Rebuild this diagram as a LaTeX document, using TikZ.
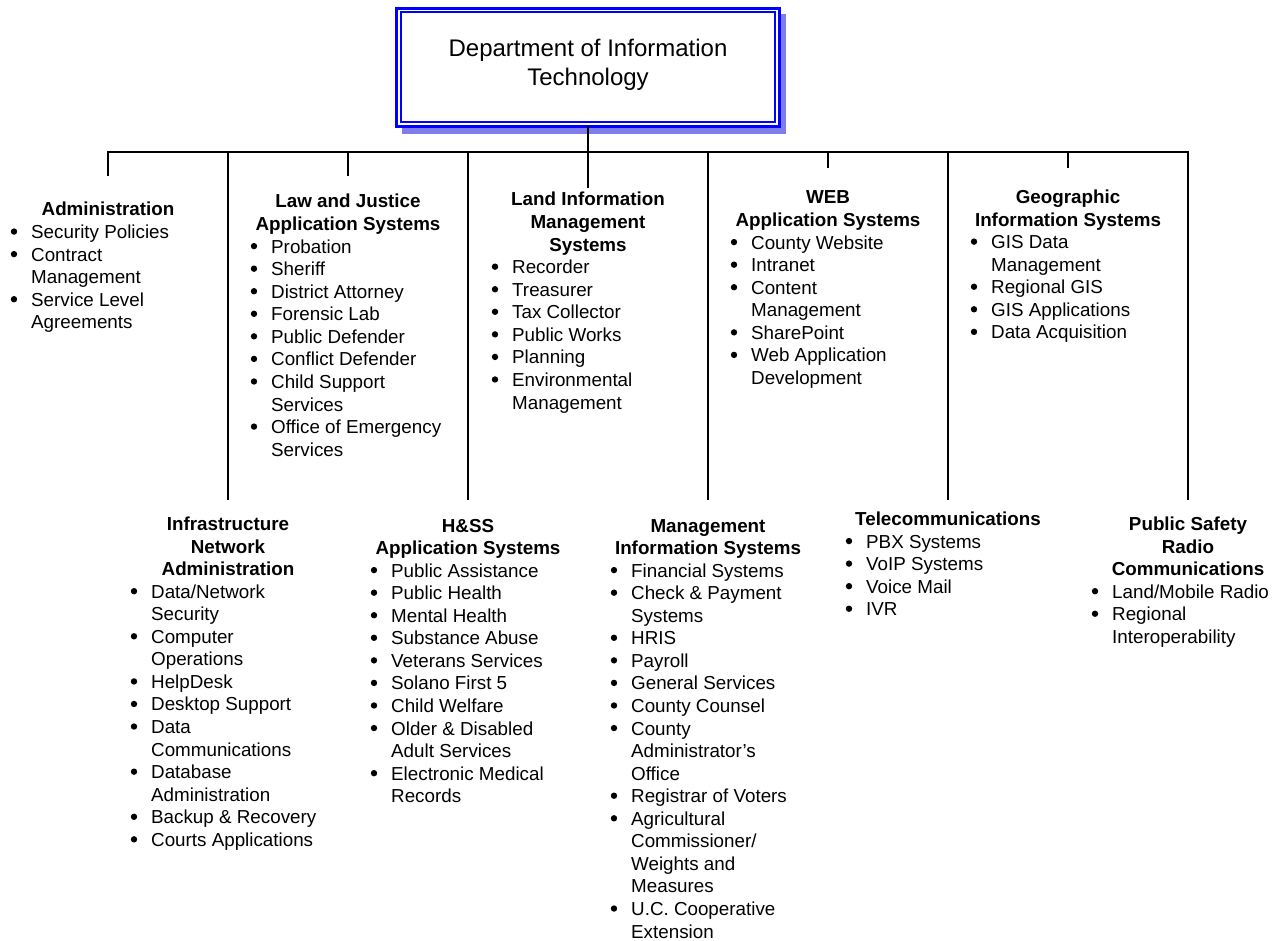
\documentclass[tikz,border=0pt]{standalone}
\usepackage{fontspec}
\setmainfont{Liberation Sans}
\usetikzlibrary{calc}
\definecolor{shadowblue}{RGB}{125,125,240}
\definecolor{titleblue}{RGB}{0,0,255}
\tikzset{
  conn/.style={line width=2pt, black},
  hd/.style={inner sep=0pt, font=\fontsize{18.8}{22.56}\selectfont\bfseries},
  it/.style={inner sep=0pt, font=\fontsize{18.8}{22.56}\selectfont},
  bul/.style={fill=black},
  titlebox/.style={draw=titleblue, line width=3.5pt, fill=white, outer sep=0pt,
    minimum width=383pt, minimum height=118pt, align=center,
    font=\fontsize{24}{29}\selectfont},
}
\newcommand\orggroup[8]{%
  \node[hd, anchor=base] (h#1) at (#2,#3) {\begin{tabular}[t]{@{}c@{}}#5\end{tabular}};
  \node[it, anchor=base west] (l#1) at (#6,#3+#4*22.56) {\begin{tabular}[t]{@{}l@{}}#7\end{tabular}};
  \foreach \bi in {#8} \fill[bul] (#6-17,#3+#4*22.56+\bi*22.56-7) circle (3.2);
}
\begin{document}
\begin{tikzpicture}[x=1pt,y=-1pt]
\fill[white] (0,0) rectangle (1275,941);
\useasboundingbox (0,0) rectangle (1275,941);
% title box with shadow
\fill[shadowblue] (402,14) rectangle (786,134);
\node[titlebox] (top) at (588,67.5) {Department of Information\\Technology\rule[-11pt]{0pt}{0pt}};
\draw[titleblue, line width=2pt] ($(top.north west)+(4.5,4)$) rectangle ($(top.south east)+(-4.5,-4.5)$);
% bus coordinates
\coordinate (bAdm) at (108,152);
\coordinate (bInf) at (228,152);
\coordinate (bLaw) at (348,152);
\coordinate (bHss) at (468,152);
\coordinate (bMis) at (708,152);
\coordinate (bWeb) at (828,152);
\coordinate (bTel) at (948,152);
\coordinate (bGis) at (1068,152);
\coordinate (bPs) at (1188,152);
\coordinate (eAdm) at (108,176);
\coordinate (eInf) at (228,500);
\coordinate (eLaw) at (348,176);
\coordinate (eHss) at (468,500);
\coordinate (eLand) at (588,188);
\coordinate (eMis) at (708,500);
\coordinate (eWeb) at (828,168);
\coordinate (eTel) at (948,500);
\coordinate (eGis) at (1068,168);
\coordinate (ePs) at (1188,500);
\draw[conn] (top.south) -- (eLand);
\draw[conn] (eAdm) -- (bAdm) -- (bPs) -- (ePs);
\draw[conn] (bInf) -- (eInf);
\draw[conn] (bLaw) -- (eLaw);
\draw[conn] (bHss) -- (eHss);
\draw[conn] (bMis) -- (eMis);
\draw[conn] (bWeb) -- (eWeb);
\draw[conn] (bTel) -- (eTel);
\draw[conn] (bGis) -- (eGis);
% groups
\orggroup{Adm}{108}{216}{1}{Administration}{31}{Security Policies\\Contract\\Management\\Service Level\\Agreements}{0,1,3}
\orggroup{Law}{348}{208}{2}{Law and Justice\\Application Systems}{271}{Probation\\Sheriff\\District Attorney\\Forensic Lab\\Public Defender\\Conflict Defender\\Child Support\\Services\\Office of Emergency\\Services}{0,1,2,3,4,5,6,8}
\orggroup{Land}{588}{206}{3}{Land Information\\Management\\Systems}{512}{Recorder\\Treasurer\\Tax Collector\\Public Works\\Planning\\Environmental\\Management}{0,1,2,3,4,5}
\orggroup{Web}{828}{204}{2}{WEB\\Application Systems}{751}{County Website\\Intranet\\Content\\Management\\SharePoint\\Web Application\\Development}{0,1,2,4,5}
\orggroup{Gis}{1068}{203.5}{2}{Geographic\\Information Systems}{991}{GIS Data\\Management\\Regional GIS\\GIS Applications\\Data Acquisition}{0,2,3,4}
\orggroup{Inf}{228}{530.5}{3}{Infrastructure\\Network\\Administration}{151}{Data/Network\\Security\\Computer\\Operations\\HelpDesk\\Desktop Support\\Data\\Communications\\Database\\Administration\\Backup \& Recovery\\Courts Applications}{0,2,4,5,6,8,10,11}
\orggroup{Hss}{468}{532}{2}{H\&SS\\Application Systems}{391}{Public Assistance\\Public Health\\Mental Health\\Substance Abuse\\Veterans Services\\Solano First 5\\Child Welfare\\Older \& Disabled\\Adult Services\\Electronic Medical\\Records}{0,1,2,3,4,5,6,7,9}
\orggroup{Mis}{708}{532}{2}{Management\\Information Systems}{631}{Financial Systems\\Check \& Payment\\Systems\\HRIS\\Payroll\\General Services\\County Counsel\\County\\Administrator’s\\Office\\Registrar of Voters\\Agricultural\\Commissioner/\\Weights and\\Measures\\U.C. Cooperative\\Extension}{0,1,3,4,5,6,7,10,11,15}
\orggroup{Tel}{948}{525.5}{1}{Telecommunications}{866}{PBX Systems\\VoIP Systems\\Voice Mail\\IVR}{0,1,2,3}
\orggroup{Ps}{1188}{530.5}{3}{Public Safety\\Radio\\Communications}{1112}{Land/Mobile Radio\\Regional\\Interoperability}{0,1}
\end{tikzpicture}
\end{document}
